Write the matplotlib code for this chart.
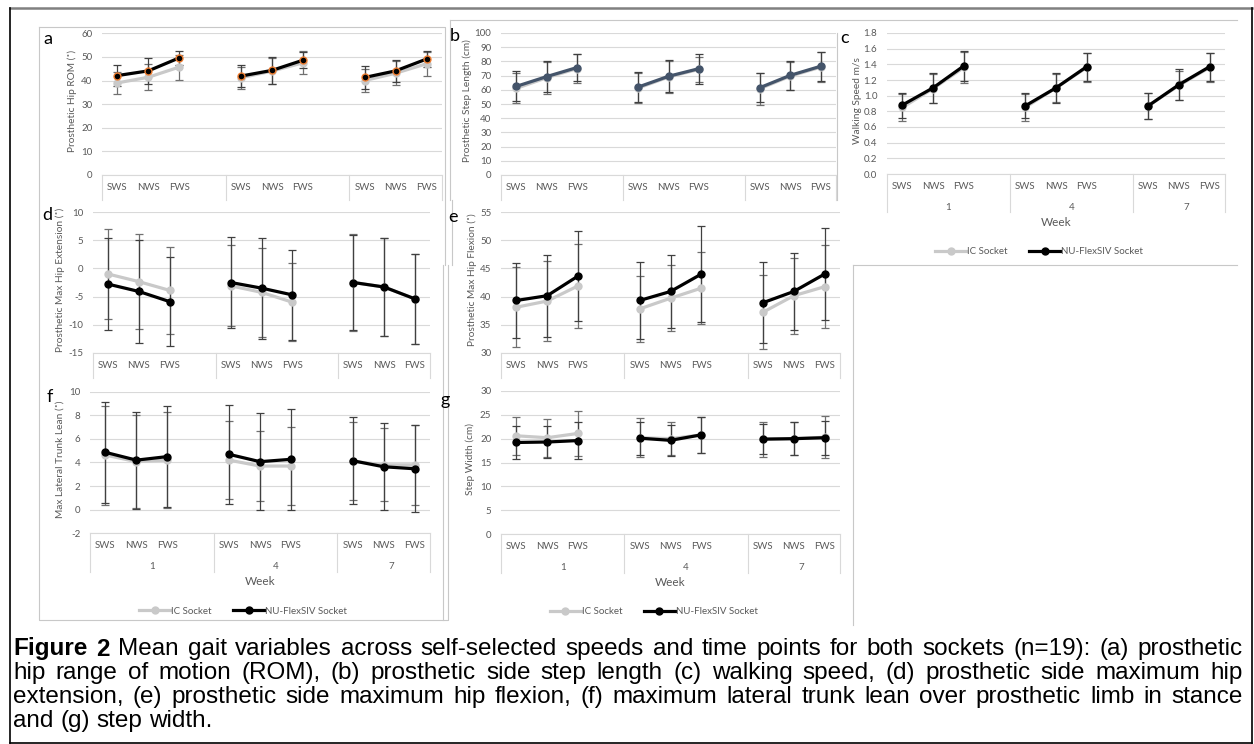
import matplotlib
matplotlib.use('Agg')
import matplotlib.pyplot as plt
from matplotlib.lines import Line2D
import matplotlib.transforms as mtransforms

plt.rcParams['font.family'] = ['Lato', 'DejaVu Sans']
plt.rcParams['axes.unicode_minus'] = False

W, H = 1254, 744
speeds = ['SWS', 'NWS', 'FWS']
weeks = ['1', '4', '7']
series_names = ['IC Socket', 'NU-FlexSIV Socket']

# (a) prosthetic hip ROM
a_ic = [39.0, 41.4, 45.7, 41.2, 44.0, 47.5, 40.0, 43.1, 47.1]
a_ic_sd = [4.6, 5.5, 5.3, 4.6, 5.6, 4.8, 5.0, 5.0, 5.0]
a_nu = [42.1, 44.1, 49.6, 41.9, 44.3, 48.6, 41.3, 44.1, 49.1]
a_nu_sd = [4.6, 5.5, 3.0, 4.7, 5.7, 3.3, 4.8, 4.7, 3.5]
# (b) step length
b_ic = [61.0, 68.5, 75.0, 61.2, 69.0, 74.4, 60.8, 69.6, 76.0]
b_ic_sd = [10.5, 11.2, 10.0, 10.5, 11.0, 9.0, 11.2, 10.0, 10.3]
b_nu = [62.4, 69.3, 75.7, 61.9, 69.5, 74.9, 61.5, 70.2, 76.6]
b_nu_sd = [10.6, 11.0, 9.8, 10.7, 11.3, 10.6, 10.3, 10.0, 10.2]
# (c) walking speed
c_ic = [0.85, 1.09, 1.36, 0.85, 1.10, 1.36, 0.87, 1.13, 1.36]
c_ic_sd = [0.17, 0.19, 0.20, 0.17, 0.18, 0.18, 0.17, 0.19, 0.18]
c_nu = [0.88, 1.10, 1.38, 0.87, 1.10, 1.37, 0.87, 1.14, 1.37]
c_nu_sd = [0.16, 0.19, 0.19, 0.16, 0.19, 0.18, 0.17, 0.20, 0.18]
# (d) max hip extension
d_ic = [-1.0, -2.35, -3.9, -3.1, -4.25, -6.0, -2.5, -3.3, -5.4]
d_ic_sd = [8.0, 8.5, 7.8, 7.2, 7.9, 7.0, 8.6, 8.7, 8.0]
d_nu = [-2.8, -4.1, -5.9, -2.5, -3.5, -4.7, -2.5, -3.3, -5.4]
d_nu_sd = [8.2, 9.1, 7.9, 8.05, 9.0, 8.0, 8.4, 8.8, 8.0]
# (e) max hip flexion
e_ic = [38.1, 39.2, 41.9, 37.8, 39.7, 41.5, 37.2, 40.15, 41.75]
e_ic_sd = [7.1, 7.2, 7.5, 5.9, 5.9, 6.4, 6.6, 6.75, 7.4]
e_nu = [39.3, 40.15, 43.65, 39.3, 40.9, 44.0, 38.9, 40.9, 44.0]
e_nu_sd = [6.6, 7.3, 8.0, 6.8, 6.5, 8.5, 7.2, 6.9, 8.2]
# (f) lateral trunk lean
f_ic = [4.63, 4.07, 4.2, 4.2, 3.7, 3.7, 4.1, 3.8, 3.8]
f_ic_sd = [4.2, 3.95, 4.05, 3.3, 3.0, 3.27, 3.3, 3.1, 3.4]
f_nu = [4.86, 4.2, 4.5, 4.69, 4.07, 4.27, 4.15, 3.64, 3.47]
f_nu_sd = [4.26, 4.1, 4.3, 4.2, 4.1, 4.27, 3.7, 3.7, 3.7]
# (g) step width
g_ic = [20.6, 20.2, 21.1, 20.2, 20.0, 20.8, 19.9, 20.0, 20.3]
g_ic_sd = [4.0, 4.0, 4.8, 4.1, 3.4, 3.8, 3.7, 3.5, 4.4]
g_nu = [19.2, 19.3, 19.6, 20.1, 19.65, 20.8, 19.9, 20.0, 20.2]
g_nu_sd = [3.5, 3.3, 3.9, 3.5, 3.3, 3.8, 3.1, 3.4, 3.6]

caption = [
    'Figure 2 Mean gait variables across self-selected speeds and time points for both sockets (n=19): (a) prosthetic',
    'hip range of motion (ROM), (b) prosthetic side step length (c) walking speed, (d) prosthetic side maximum hip',
    'extension, (e) prosthetic side maximum hip flexion, (f) maximum lateral trunk lean over prosthetic limb in stance',
    'and (g) step width.',
]

GRID = '#d9d9d9'
TXT = '#595959'
IC_COL = '#c9c9c9'

fig = plt.figure(figsize=(W / 100, H / 100), dpi=100)


def fx(x):
    return x / W


def fy(y):
    return 1 - y / H


def fline(xs, ys, color=GRID, lw=0.8):
    fig.add_artist(Line2D([fx(v) for v in xs], [fy(v) for v in ys], color=color, lw=lw))


def panel(box, ic, ic_sd, nu, nu_sd, ylim, ystep, ylabel, lab_x, letter, let_xy,
          fmt='{:g}', nu_col='black', nu_edge=None, two_rows=False, sep_len=25):
    x0, x1, yt, yb = box
    h = yb - yt
    ax = fig.add_axes([fx(x0), fy(yb), (x1 - x0) / W, h / H])
    xs = [w * 4 + s for w in range(3) for s in range(3)]
    ax.errorbar(xs, ic, yerr=ic_sd, fmt='none', ecolor='#707070', elinewidth=0.9,
                capsize=2.8, capthick=0.9, zorder=2)
    ax.errorbar(xs, nu, yerr=nu_sd, fmt='none', ecolor='#404040', elinewidth=0.9,
                capsize=2.8, capthick=0.9, zorder=2)
    handles = []
    for g in range(3):
        sl = slice(g * 3, g * 3 + 3)
        l1, = ax.plot(xs[sl], ic[sl], '-o', color=IC_COL, lw=2.3, ms=5, zorder=3)
        l2, = ax.plot(xs[sl], nu[sl], '-o', color=nu_col, lw=2.3, ms=5, zorder=4,
                      mec=nu_edge or nu_col, mew=1.0)
        if g == 0:
            handles = [l1, l2]
    ax.set_xlim(-0.5, 10.5)
    ax.set_ylim(*ylim)
    ticks = []
    v = ylim[0]
    while v <= ylim[1] + 1e-9:
        ticks.append(round(v, 6))
        v += ystep
    ax.set_yticks(ticks)
    ax.set_yticklabels([fmt.format(t) for t in ticks])
    ax.set_xticks([])
    ax.tick_params(axis='y', length=0, pad=7, labelsize=7, labelcolor=TXT)
    ax.grid(axis='y', color=GRID, lw=0.8)
    ax.set_axisbelow(True)
    for s in ['top', 'right', 'left']:
        ax.spines[s].set_visible(False)
    ax.spines['bottom'].set_color(GRID)
    ax.spines['bottom'].set_linewidth(0.8)

    tr = mtransforms.blended_transform_factory(ax.transData, ax.transAxes)
    for i, x in enumerate(xs):
        ax.text(x, -12.5 / h, speeds[i % 3], transform=tr, ha='center', va='center',
                fontsize=7, color=TXT)
    for sx in [-0.5, 3.5, 7.5, 10.5]:
        ax.plot([sx, sx], [0, -sep_len / h], transform=tr, color=GRID, lw=0.8, clip_on=False)
    if two_rows:
        for i, wk in enumerate(weeks):
            cx = [1.5, 5.5, 9.25][i]
            ax.text(cx, -33 / h, wk, transform=tr, ha='center', va='center',
                    fontsize=7, color=TXT)
        ax.text(0.5, -48 / h, 'Week', transform=ax.transAxes, ha='center', va='center',
                fontsize=8.5, color=TXT)
        ax.legend(handles, series_names, loc='center', bbox_to_anchor=(0.45, -78 / h),
                  ncol=2, frameon=False, fontsize=7, labelcolor=TXT, handlelength=3.2,
                  columnspacing=2.2, handletextpad=0.1)
    fig.text(fx(lab_x), fy((yt + yb) / 2 - 3), ylabel, rotation=90, ha='center', va='center',
             fontsize=7.3, color=TXT)
    fig.text(fx(let_xy[0]), fy(let_xy[1]), letter, ha='center', va='center', fontsize=13,
             color='black')
    return ax


# outer frame and panel borders
fline([10, 1252], [8, 8], color='#808080', lw=1.8)
fline([10, 10], [8, 743], color='black', lw=1.2)
fline([1252, 1252], [8, 743], color='black', lw=1.2)
fline([10, 1252], [743, 743], color='black', lw=1.2)
fline([39, 445, 445], [27, 27, 265], color='#c8c8c8')
fline([39, 39, 448, 448], [27, 620, 620, 265], color='#c8c8c8')
fline([450, 450], [20, 200], color='#c8c8c8')
fline([450, 1237], [20, 20], color='#c8c8c8')
fline([837, 837], [33, 200], color='#c8c8c8')
fline([452, 452], [200, 265], color='#c8c8c8')
fline([443, 443], [265, 620], color='#c8c8c8')
fline([853, 1237], [265, 265], color='#c8c8c8')
fline([853, 853], [265, 625], color='#c8c8c8')

panel((102, 442, 33.3, 175), a_ic, a_ic_sd, a_nu, a_nu_sd, (0, 60), 10,
      'Prosthetic Hip ROM (˚)', 72, 'a', (48, 39), nu_edge='#ed7d31')
panel((501, 836, 33, 175), b_ic, b_ic_sd, b_nu, b_nu_sd, (0, 100), 10,
      'Prosthetic Step Length (cm)', 467, 'b', (455, 36), nu_col='#44546a')
panel((887, 1225, 33, 174), c_ic, c_ic_sd, c_nu, c_nu_sd, (0, 1.8), 0.2,
      'Walking Speed m/s', 857, 'c', (845, 38), fmt='{:.1f}', two_rows=True, sep_len=38)
panel((93, 430, 212.3, 352.7), d_ic, d_ic_sd, d_nu, d_nu_sd, (-15, 10), 5,
      'Prosthetic Max Hip Extension (˚)', 60, 'd', (47, 215))
panel((501, 840, 212.3, 352.7), e_ic, e_ic_sd, e_nu, e_nu_sd, (30, 55), 5,
      'Prosthetic Max Hip Flexion (˚)', 472, 'e', (453, 217))
panel((90, 430, 391.7, 533.3), f_ic, f_ic_sd, f_nu, f_nu_sd, (-2, 10), 2,
      'Max Lateral Trunk Lean (˚)', 60, 'f', (50, 397), two_rows=True, sep_len=39)
panel((501, 840, 391, 534), g_ic, g_ic_sd, g_nu, g_nu_sd, (0, 30), 5,
      'Step Width (cm)', 470, 'g', (445, 400), two_rows=True, sep_len=39)

# justified caption
renderer = fig.canvas.get_renderer()
cap_y = [649, 673, 697, 721]
cap_size = 17.5
left, right = 13, 1243
for i, line in enumerate(caption):
    words = line.split(' ')
    texts = []
    for j, wd in enumerate(words):
        t = fig.text(0, fy(cap_y[i]), wd, fontsize=cap_size, family='Liberation Sans',
                     fontweight='bold' if (i == 0 and j < 2) else 'normal', va='center',
                     color='black')
        texts.append(t)
    widths = [t.get_window_extent(renderer).width for t in texts]
    if i < len(caption) - 1:
        gap = (right - left - sum(widths)) / (len(words) - 1)
    else:
        gap = cap_size * 100 / 72 * 0.278
    x = left
    for t, wd in zip(texts, widths):
        t.set_x(fx(x))
        x += wd + gap

plt.savefig('out.png', dpi=100)
